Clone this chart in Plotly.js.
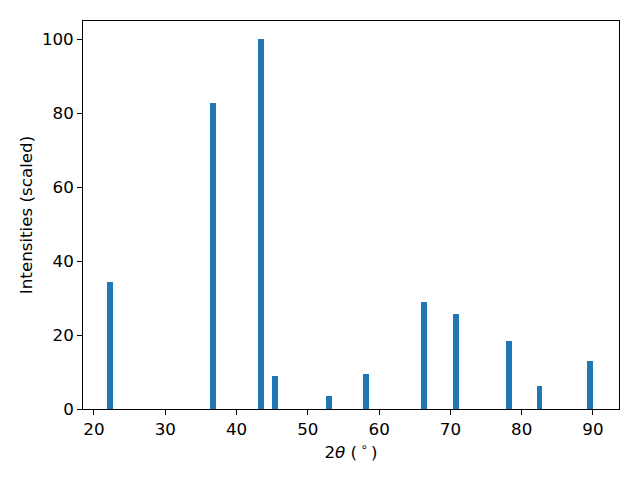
<!DOCTYPE html>
<html>
<head>
<meta charset="utf-8">
<script src="https://cdn.plot.ly/plotly-3.0.1.min.js"></script>
<style>html,body{margin:0;padding:0;background:#fff;}#chart{width:640px;height:480px;}</style>
</head>
<body>
<div id="chart"></div>
<script>
const twoTheta = [22.24, 36.73, 43.4, 45.43, 52.94, 58.13, 66.26, 70.82, 78.25, 82.5, 89.58];
const intensities = [34.4, 82.9, 100, 8.9, 3.5, 9.5, 29.0, 25.8, 18.4, 6.2, 13.0];
const xTicks = [20, 30, 40, 50, 60, 70, 80, 90];
const yTicks = [0, 20, 40, 60, 80, 100];

const fontFam = 'DejaVu Sans, sans-serif';
const trace = {
  type: 'bar',
  x: twoTheta,
  y: intensities,
  width: 0.8,
  marker: {color: '#1f77b4', line: {width: 0}},
  hoverinfo: 'x+y'
};
const axisCommon = {
  showline: true, linecolor: '#000', linewidth: 1, mirror: true,
  ticks: 'outside', ticklen: 4.9, tickwidth: 1, tickcolor: '#000',
  showgrid: false, zeroline: false,
  tickfont: {family: fontFam, size: 16.7, color: '#000'}
};
const layout = {
  width: 640, height: 480,
  margin: {l: 83, r: 21, t: 21, b: 71},
  paper_bgcolor: '#fff', plot_bgcolor: '#fff',
  showlegend: false,
  bargap: 0,
  xaxis: Object.assign({}, axisCommon, {
    range: [18.46, 93.65],
    tickmode: 'array', tickvals: xTicks, ticktext: xTicks.map(String),
    title: {text: '2<i>θ</i> (\u2009<sup>∘</sup>\u2009)', font: {family: fontFam, size: 16.7, color: '#000'}, standoff: 8}
  }),
  yaxis: Object.assign({}, axisCommon, {
    range: [0, 105],
    tickmode: 'array', tickvals: yTicks, ticktext: yTicks.map(String),
    title: {text: 'Intensities (scaled)', font: {family: fontFam, size: 16.7, color: '#000'}, standoff: 5}
  })
};
Plotly.newPlot('chart', [trace], layout, {displayModeBar: false, staticPlot: true});
</script>
</body>
</html>
